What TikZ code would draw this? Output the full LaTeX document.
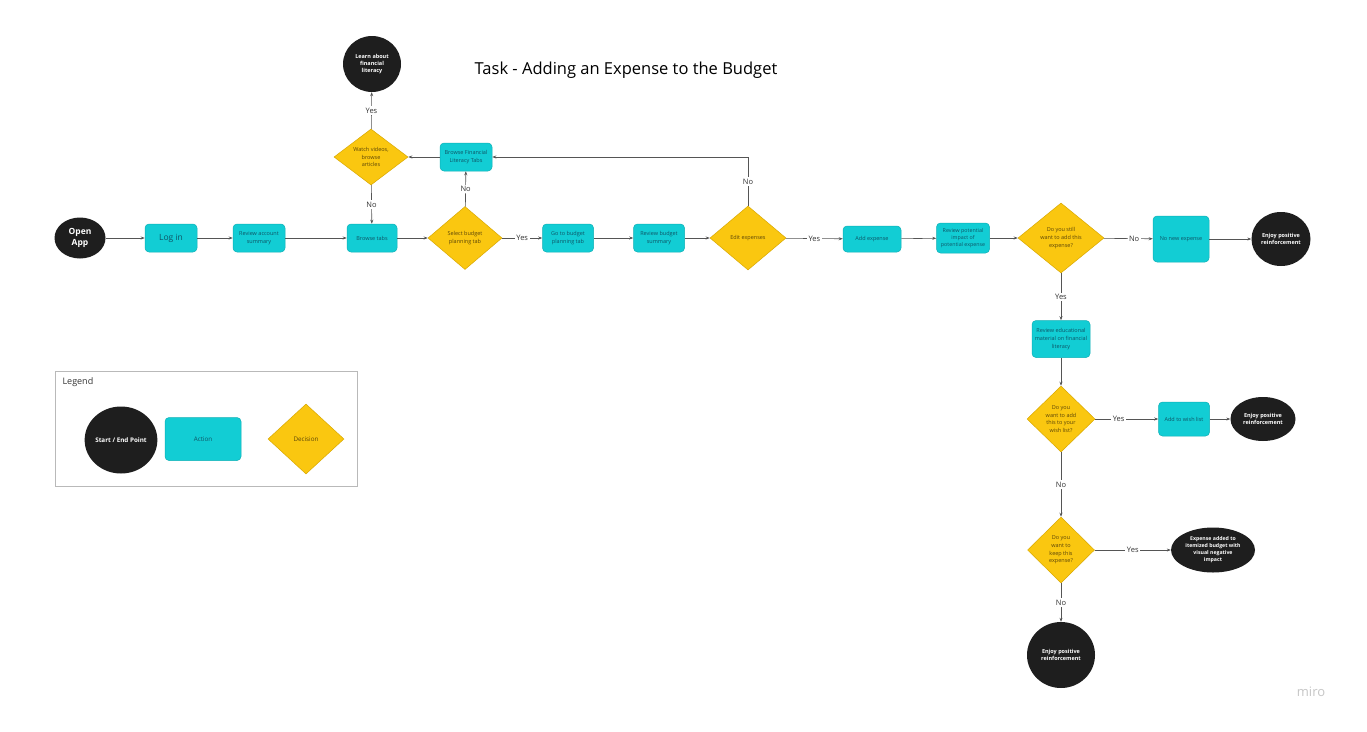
\documentclass[tikz,border=0pt]{standalone}
\usepackage{fontspec}
\setmainfont{Open Sans}
\usetikzlibrary{shapes.geometric,arrows.meta}
\definecolor{termblack}{HTML}{1E1E1E}
\definecolor{actcyan}{HTML}{12CDD4}
\definecolor{actborder}{HTML}{0FB0B6}
\definecolor{acttext}{HTML}{0E5566}
\definecolor{decyellow}{HTML}{FAC710}
\definecolor{decborder}{HTML}{D9A800}
\definecolor{dectext}{HTML}{5C4608}
\definecolor{linegray}{HTML}{555555}
\definecolor{lbltext}{HTML}{333333}
\tikzset{
  term/.style={ellipse, fill=termblack, text=white, font=\bfseries\fontsize{5.5}{7.3}\selectfont, inner sep=0pt, align=center},
  act/.style={rectangle, rounded corners=4pt, fill=actcyan, draw=actborder, line width=0.5pt, text=acttext, font=\fontsize{5.5}{7.6}\selectfont, inner sep=0pt, align=center},
  dec/.style={diamond, fill=decyellow, draw=decborder, line width=0.5pt, text=dectext, font=\fontsize{5.5}{7.6}\selectfont, inner sep=0pt, align=center},
  conn/.style={draw=linegray, line width=0.6pt, -{Stealth[length=4pt,width=3pt]}},
  lbl/.style={fill=white, text=lbltext, font=\fontsize{7.5}{8.5}\selectfont, inner sep=1.5pt},
}
\begin{document}
\begin{tikzpicture}[x=1pt,y=-1pt]
\useasboundingbox[fill=white] (0,0) rectangle (1367,731);

% title
\node[font=\fontsize{16.5}{19}\selectfont, text=black] (title) at (626,70) {Task - Adding an Expense to the Budget};

% top part
\node[term, minimum width=58pt, minimum height=56pt] (learn) at (372,64) {Learn about\\financial\\literacy};
\node[dec, minimum width=74pt, minimum height=56pt] (watch) at (371,157) {Watch videos,\\browse\\articles};
\node[act, minimum width=52pt, minimum height=28pt] (bfin) at (466,157) {Browse Financial\\Literacy Tabs};

% main row
\node[term, minimum width=51pt, minimum height=41pt, font=\bfseries\fontsize{8.5}{10.5}\selectfont] (open) at (80,238) {Open\\App};
\node[act, minimum width=52pt, minimum height=28pt, font=\fontsize{8.5}{10}\selectfont] (login) at (171,238) {Log in};
\node[act, minimum width=52pt, minimum height=28pt] (racc) at (259,238) {Review account\\summary};
\node[act, minimum width=50pt, minimum height=28pt] (btabs) at (372,238) {Browse tabs};
\node[dec, minimum width=74pt, minimum height=63pt] (select) at (465,238) {Select budget\\planning tab};
\node[act, minimum width=51pt, minimum height=28pt] (goto) at (568,238) {Go to budget\\planning tab};
\node[act, minimum width=51pt, minimum height=28pt] (rbud) at (659,238) {Review budget\\summary};
\node[dec, minimum width=76pt, minimum height=64pt] (edit) at (748,238) {Edit expenses};
\node[act, minimum width=58pt, minimum height=26pt] (addexp) at (872,239) {Add expense};
\node[act, minimum width=53pt, minimum height=30pt, font=\fontsize{5.3}{7}\selectfont] (rpot) at (963,238) {Review potential\\impact of\\potential expense};
\node[dec, minimum width=86pt, minimum height=70pt] (still) at (1061,238) {Do you still\\want to add this\\expense?};
\node[act, minimum width=56pt, minimum height=46pt] (nonew) at (1181,239) {No new expense};
\node[term, minimum width=59pt, minimum height=54pt] (enj1) at (1281,239) {Enjoy positive\\reinforcement};

% right column
\node[act, minimum width=58pt, minimum height=37pt] (redu) at (1061,339) {Review educational\\material on financial\\literacy};
\node[dec, minimum width=68pt, minimum height=66pt] (wish) at (1061,419) {Do you\\want to add\\this to your\\wish list?};
\node[act, minimum width=51pt, minimum height=34pt] (addwish) at (1184,419) {Add to wish list};
\node[term, minimum width=65pt, minimum height=44pt] (enj2) at (1263,419) {Enjoy positive\\reinforcement};
\node[dec, minimum width=67pt, minimum height=66pt] (keep) at (1061,550) {Do you\\want to\\keep this\\expense?};
\node[term, minimum width=84pt, minimum height=45pt, font=\bfseries\fontsize{5.2}{7}\selectfont] (added) at (1213,550) {Expense added to\\itemized budget with\\visual negative\\impact};
\node[term, minimum width=68pt, minimum height=66pt] (enj3) at (1061,655) {Enjoy positive\\reinforcement};

% connectors
\draw[conn] (open) -- (login);
\draw[conn] (login) -- (racc);
\draw[conn] (racc) -- (btabs);
\draw[conn] (btabs) -- (select);
\draw[conn] (select) -- node[lbl]{Yes} (goto);
\draw[conn] (goto) -- (rbud);
\draw[conn] (rbud) -- (edit);
\draw[conn] (edit) -- node[lbl]{Yes} (addexp);
\draw[conn] (addexp) -- (rpot);
\draw[conn] (rpot) -- (still);
\draw[conn] (still) -- node[lbl, pos=0.62]{No} (nonew);
\draw[conn] (nonew) -- (enj1);
\draw[conn] (still) -- node[lbl]{Yes} (redu);
\draw[conn] (redu) -- (wish);
\draw[conn] (wish) -- node[lbl, pos=0.37]{Yes} (addwish);
\draw[conn] (addwish) -- (enj2);
\draw[conn] (wish) -- node[lbl]{No} (keep);
\draw[conn] (keep) -- node[lbl]{Yes} (added);
\draw[conn] (keep) -- node[lbl]{No} (enj3);
\draw[conn] (select) -- node[lbl]{No} (bfin);
\draw[conn] (edit.north) -- node[lbl]{No} (edit.north |- bfin.east) -- (bfin.east);
\draw[conn] (bfin) -- (watch);
\draw[conn] (watch) -- node[lbl]{Yes} (learn);
\draw[conn] (watch) -- node[lbl]{No} (btabs);

% legend
\draw[gray!55, line width=0.8pt] (55,371) rectangle (357,486);
\node[anchor=west, font=\fontsize{9}{10}\selectfont, text=lbltext] (legtitle) at (59,382) {Legend};
\node[term, minimum width=68pt, minimum height=67pt, font=\bfseries\fontsize{6.3}{7}\selectfont] (legterm) at (121,440) {Start / End Point};
\node[act, minimum width=76pt, minimum height=43pt, font=\fontsize{6.3}{7}\selectfont] (legact) at (203,439) {Action};
\node[dec, minimum width=76pt, minimum height=70pt, font=\fontsize{6.3}{7}\selectfont] (legdec) at (306,439) {Decision};

% watermark
\node[text=gray!45, font=\fontsize{13}{15}\selectfont] (miro) at (1311,692) {miro};
\end{tikzpicture}
\end{document}
